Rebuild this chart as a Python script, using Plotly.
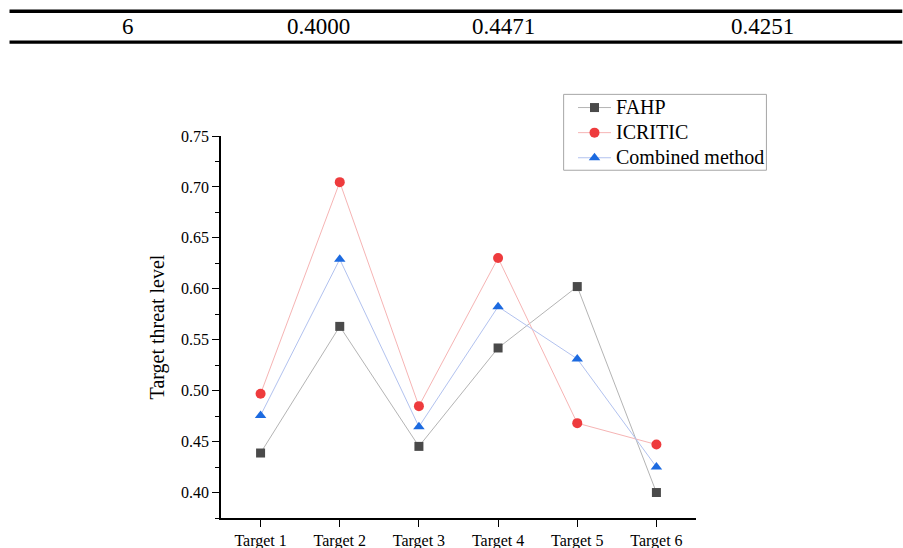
import plotly.graph_objects as go

# ---- data ----
targets = ["Target 1", "Target 2", "Target 3", "Target 4", "Target 5", "Target 6"]
fahp = [0.4388, 0.5631, 0.4453, 0.5419, 0.6022, 0.4000]
icritic = [0.4969, 0.7047, 0.4848, 0.6303, 0.4681, 0.4471]
combined = [0.4757, 0.6290, 0.4646, 0.5825, 0.5312, 0.4251]
series_names = ["FAHP", "ICRITIC", "Combined method"]
table_row = ["6", "0.4000", "0.4471", "0.4251"]
y_ticks = [0.40, 0.45, 0.50, 0.55, 0.60, 0.65, 0.70, 0.75]

FONT = "Liberation Serif"
W, H = 903, 548
L, R, T, B = 221, 206.5, 135.7, 29.7
PW, PH = W - L - R, H - T - B

def px_x(px):
    return (px - L) / PW

def px_y(py):
    return (H - B - py) / PH

def legend_label(name):
    return f'<span style="font-size:20px">{name}</span>'

fig = go.Figure()
fig.add_trace(go.Scatter(
    x=targets, y=fahp, name=legend_label(series_names[0]), mode="lines+markers",
    line=dict(color="#b4b4b4", width=1),
    marker=dict(symbol="square", size=9, color="#4a4a4a"),
))
fig.add_trace(go.Scatter(
    x=targets, y=icritic, name=legend_label(series_names[1]), mode="lines+markers",
    line=dict(color="#f6b4b4", width=1),
    marker=dict(symbol="circle", size=10, color="#ee3b3d"),
))
fig.add_trace(go.Scatter(
    x=targets, y=combined, name=legend_label(series_names[2]), mode="lines+markers",
    line=dict(color="#b2c2ef", width=1),
    marker=dict(symbol="triangle-up", size=10, color="#1c6ae0"),
))

# table row above the chart
col_centers = [127.5, 318.5, 504, 763]
for txt, cx in zip(table_row, col_centers):
    fig.add_annotation(
        x=px_x(cx), y=px_y(26), xref="paper", yref="paper",
        text=txt, showarrow=False, xanchor="center", yanchor="middle",
        font=dict(family=FONT, size=23, color="black"),
    )
for ly in (10.7, 41.7):
    fig.add_shape(
        type="line", xref="paper", yref="paper",
        x0=px_x(9.3), x1=px_x(903), y0=px_y(ly), y1=px_y(ly),
        line=dict(color="black", width=3.4),
    )

# legend frame
fig.add_shape(
    type="rect", xref="paper", yref="paper",
    x0=px_x(564), x1=px_x(767), y0=px_y(170), y1=px_y(94),
    line=dict(color="#a6a6a6", width=1), fillcolor="white", layer="below",
)

fig.update_layout(
    width=W, height=H, autosize=False,
    margin=dict(l=L, r=R, t=T, b=B, pad=0, autoexpand=False),
    paper_bgcolor="white", plot_bgcolor="white",
    font=dict(family=FONT, color="black"),
    showlegend=True,
    legend=dict(
        xref="container", yref="container",
        x=573 / W, y=1 - 90 / H, xanchor="left", yanchor="top",
        bgcolor="rgba(0,0,0,0)", borderwidth=0,
        font=dict(family=FONT, size=17, color="black"),
        tracegroupgap=0, itemwidth=33,
    ),
    xaxis=dict(
        type="category", range=[-0.5, 5.5], automargin=False,
        showline=True, linecolor="black", linewidth=1.6,
        ticks="outside", ticklen=7, tickwidth=1.3, tickcolor="black",
        showgrid=False, zeroline=False,
        tickfont=dict(family=FONT, size=16, color="black"),
    ),
    yaxis=dict(
        range=[0.375, 0.75], automargin=False,
        tickvals=y_ticks, ticktext=[f"{v:.2f}" for v in y_ticks],
        showline=True, linecolor="black", linewidth=1.6,
        ticks="outside", ticklen=7, tickwidth=1.3, tickcolor="black",
        minor=dict(ticks="outside", ticklen=4, tickwidth=1.3, tickcolor="black",
                   dtick=0.025, tick0=0.375, showgrid=False),
        showgrid=False, zeroline=False,
        tickfont=dict(family=FONT, size=16, color="black"),
        title=dict(text="Target threat level", standoff=11,
                   font=dict(family=FONT, size=20, color="black")),
    ),
)

fig.write_html(
    "out.html",
    config={"displayModeBar": False},
    post_script="document.body.style.margin='0px';document.body.style.overflow='hidden';",
)
